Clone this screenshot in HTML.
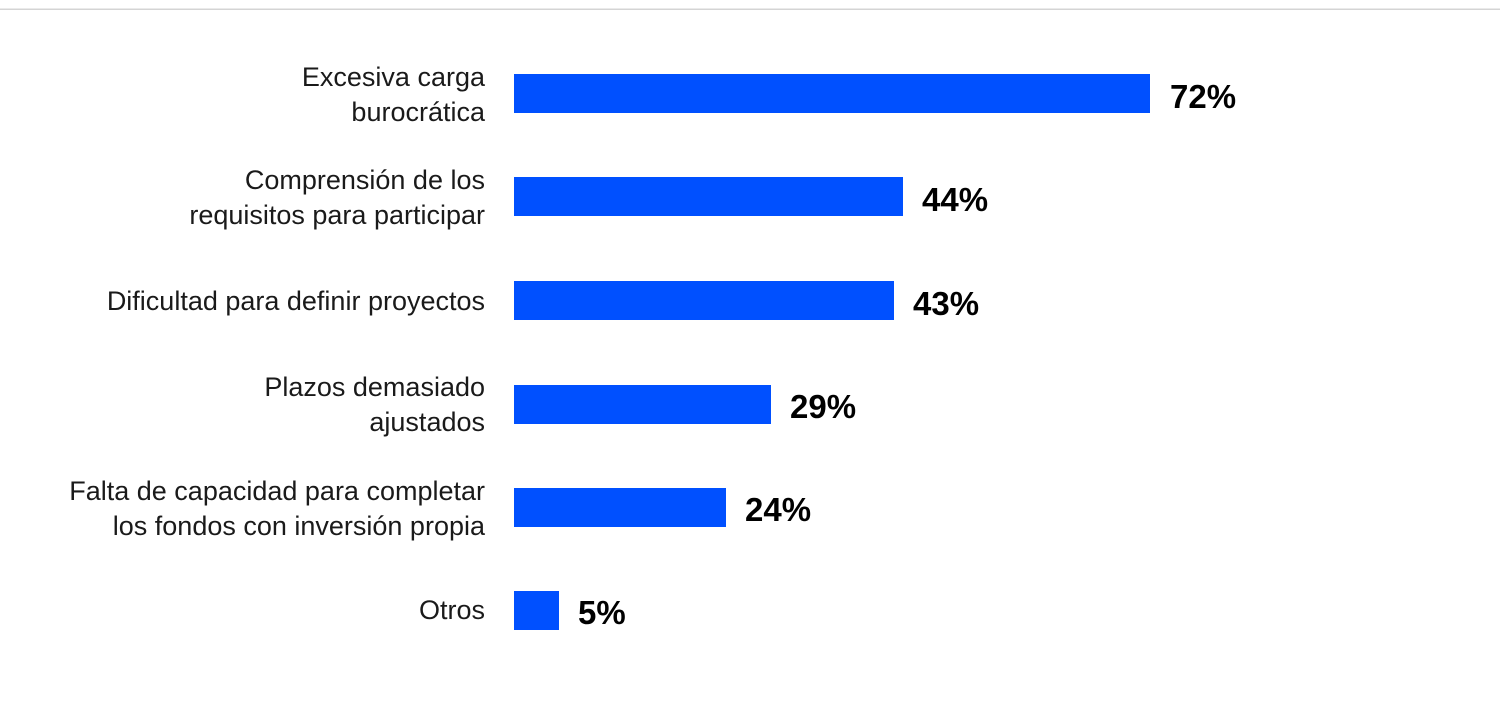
<!DOCTYPE html>
<html><head><meta charset="utf-8"><style>
html,body{margin:0;padding:0;background:#fff;}
svg{display:block;}
.l{font-family:"Liberation Sans",sans-serif;font-size:27px;fill:#1a1a1a;text-anchor:end;}
.v{font-family:"Liberation Sans",sans-serif;font-size:33px;font-weight:bold;fill:#000;}
</style></head><body>
<svg width="1500" height="720" viewBox="0 0 1500 720">
<rect x="0" y="8.5" width="1500" height="1.5" fill="#d4d4d4"/>
<g fill="#0050ff">
<rect x="514" y="74" width="636" height="39"/>
<rect x="514" y="177" width="389" height="39"/>
<rect x="514" y="281" width="380" height="39"/>
<rect x="514" y="385" width="257" height="39"/>
<rect x="514" y="488" width="212" height="39"/>
<rect x="514" y="591" width="45" height="39"/>
</g>
<text class="l" x="485" y="86">Excesiva carga</text>
<text class="l" x="485" y="121">burocrática</text>
<text class="l" x="485" y="189">Comprensión de los</text>
<text class="l" x="485" y="224">requisitos para participar</text>
<text class="l" x="485" y="310">Dificultad para definir proyectos</text>
<text class="l" x="485" y="396">Plazos demasiado</text>
<text class="l" x="485" y="431">ajustados</text>
<text class="l" x="485" y="500">Falta de capacidad para completar</text>
<text class="l" x="485" y="535">los fondos con inversión propia</text>
<text class="l" x="485" y="619">Otros</text>
<text class="v" x="1170" y="108">72%</text>
<text class="v" x="922" y="211">44%</text>
<text class="v" x="913" y="315">43%</text>
<text class="v" x="790" y="418">29%</text>
<text class="v" x="745" y="521">24%</text>
<text class="v" x="578" y="624">5%</text>
</svg>
</body></html>
